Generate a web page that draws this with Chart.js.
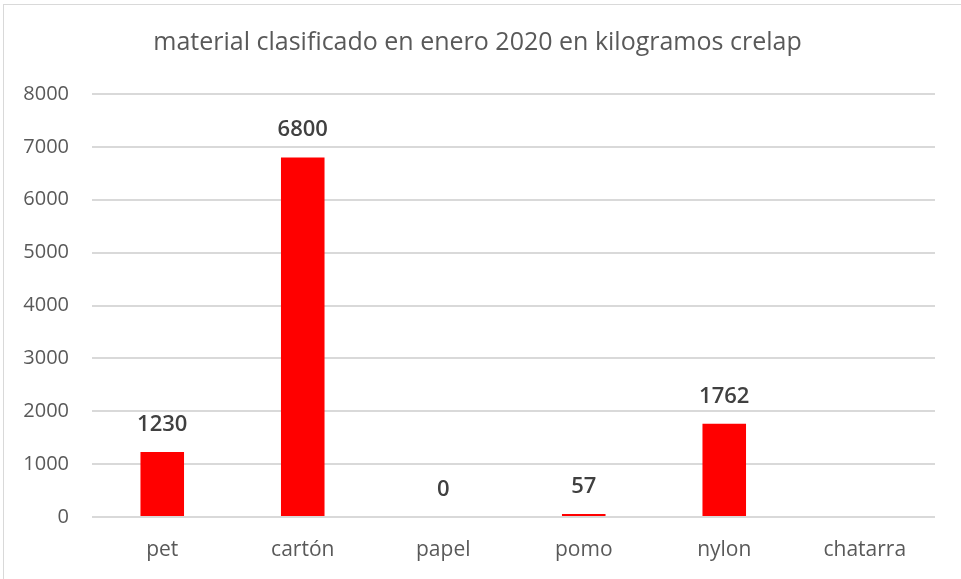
<!DOCTYPE html>
<html>
<head>
<meta charset="utf-8">
<script src="https://cdn.jsdelivr.net/npm/chart.js@4/dist/chart.umd.min.js"></script>
<style>
  html, body { margin: 0; padding: 0; background: #fff; }
  #wrap { width: 961px; height: 579px; position: relative; }
</style>
</head>
<body>
<div id="wrap"><canvas id="chart" width="961" height="579"></canvas></div>
<script>
const categories = ['pet', 'cartón', 'papel', 'pomo', 'nylon', 'chatarra'];
const kilos = [1230, 6800, 0, 57, 1762, null];
const yTicks = [0, 1000, 2000, 3000, 4000, 5000, 6000, 7000, 8000];

const FONT = "'Open Sans', 'Noto Sans', sans-serif";

// marco gris y fondo blanco
const framePlugin = {
  id: 'frame',
  beforeDraw(chart) {
    const ctx = chart.ctx;
    ctx.save();
    ctx.fillStyle = '#ffffff';
    ctx.fillRect(0, 0, chart.width, chart.height);
    ctx.strokeStyle = '#d9d9d9';
    ctx.lineWidth = 1;
    ctx.strokeRect(3.5, 4.5, chart.width + 10, chart.height + 10);
    ctx.restore();
  }
};

// etiquetas de valor encima de cada barra
const valueLabels = {
  id: 'valueLabels',
  afterDatasetsDraw(chart) {
    const ctx = chart.ctx;
    const meta = chart.getDatasetMeta(0);
    ctx.save();
    ctx.font = '600 22px ' + FONT;
    ctx.fillStyle = '#404040';
    ctx.textAlign = 'center';
    ctx.textBaseline = 'alphabetic';
    meta.data.forEach((bar, i) => {
      const v = kilos[i];
      if (v === null || v === undefined) return;
      ctx.fillText(String(v), bar.x, bar.y - 21);
    });
    ctx.restore();
  }
};

new Chart(document.getElementById('chart'), {
  type: 'bar',
  data: {
    labels: categories,
    datasets: [{
      data: kilos,
      backgroundColor: '#ff0000',
      borderWidth: 0,
      barPercentage: 0.31,
      categoryPercentage: 1
    }]
  },
  options: {
    responsive: false,
    animation: false,
    layout: { padding: { left: 20, right: 26, top: 0, bottom: 0 } },
    plugins: {
      legend: { display: false },
      tooltip: { enabled: false },
      title: {
        display: true,
        text: 'material clasificado en enero 2020 en kilogramos crelap',
        color: '#595959',
        font: { family: FONT, size: 25, weight: 'normal' },
        padding: { top: 28, bottom: 36 }
      }
    },
    scales: {
      x: {
        grid: { display: false, drawTicks: false },
        border: { display: false },
        ticks: { color: '#595959', font: { family: FONT, size: 21 }, padding: 20 },
        afterFit(scale) { scale.height = 62; }
      },
      y: {
        min: yTicks[0],
        max: yTicks[yTicks.length - 1],
        afterBuildTicks(scale) { scale.ticks = yTicks.map(v => ({ value: v })); },
        grid: { color: '#d9d9d9', lineWidth: 2, drawTicks: false },
        border: { display: false },
        ticks: {
          color: '#595959',
          font: { family: FONT, size: 20 },
          padding: 23,
          callback: (v) => String(v)
        },
        afterFit(scale) { scale.width = 72; }
      }
    }
  },
  plugins: [framePlugin, valueLabels]
});
</script>
</body>
</html>
